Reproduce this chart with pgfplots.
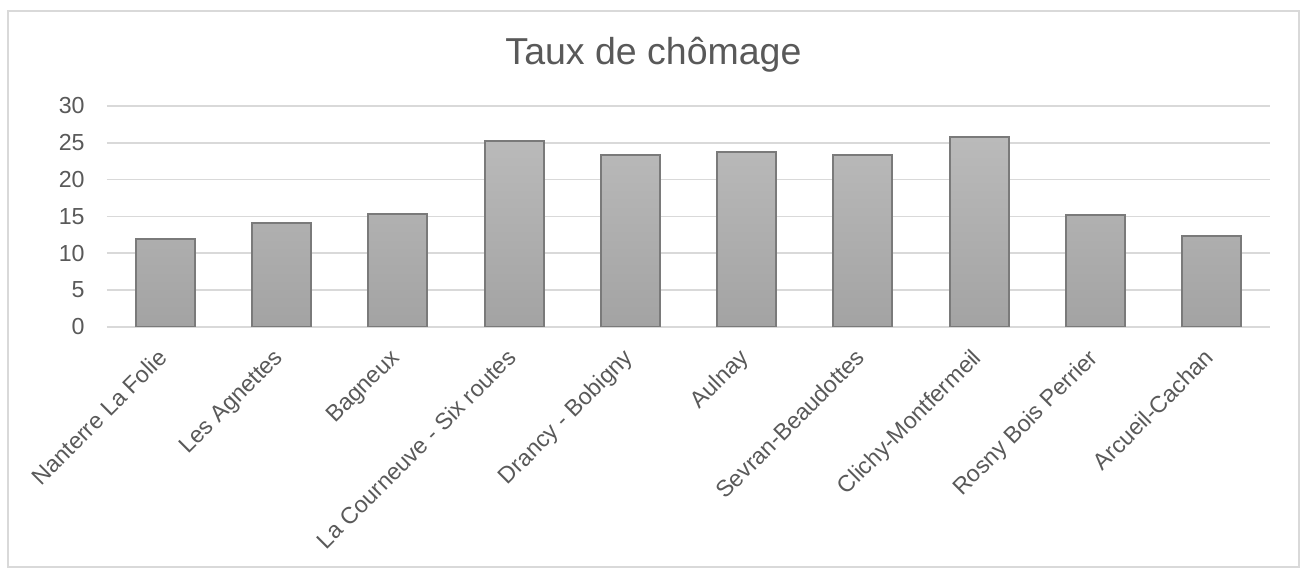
\documentclass[border=0pt]{standalone}
\usepackage{pgfplots}
\pgfplotsset{compat=1.18}
\usepackage{fontspec}
\setmainfont{Liberation Sans}
\definecolor{txt}{HTML}{595959}
\definecolor{gridc}{HTML}{D9D9D9}
\definecolor{bartop}{HTML}{BABABA}
\definecolor{barbot}{HTML}{A3A3A3}
\definecolor{barline}{HTML}{7A7A7A}
\begin{document}
\begin{tikzpicture}
\useasboundingbox (-53.5pt,-120.65pt) rectangle (598pt,163.35pt);
\draw[gridc, line width=0.8pt] (-49.5pt,-120.15pt) rectangle (596pt,157.85pt);
\begin{axis}[
  scale only axis,
  width=581.5pt, height=110.35pt,
  ymin=0, ymax=30, ytick={0,5,...,30},
  xmin=-0.5, xmax=9.5,
  xtick=data,
  xticklabels={Nanterre La Folie, Les Agnettes, Bagneux, La Courneuve - Six routes, Drancy - Bobigny, Aulnay, Sevran-Beaudottes, Clichy-Montfermeil, Rosny Bois Perrier, Arcueil-Cachan},
  axis line style={draw=none},
  major tick length=0pt,
  ymajorgrids, grid style={gridc, line width=0.8pt},
  tick label style={font=\fontsize{11.6}{14}\selectfont, text=txt},
  /pgf/number format/assume math mode=true,
  yticklabel style={anchor=east, inner sep=0pt, xshift=-11pt},
  xticklabel style={rotate=45, anchor=north east, inner sep=0pt, xshift=-10.25pt, yshift=-4.15pt},
  ybar, bar width=29.5pt,
]
\addplot[draw=barline, line width=1pt, top color=bartop, bottom color=barbot] coordinates {
(0,11.9) (1,14.1) (2,15.3) (3,25.3) (4,23.3) (5,23.7) (6,23.3) (7,25.8) (8,15.2) (9,12.3)};
\end{axis}
\node[anchor=base, font=\fontsize{18.75}{22}\selectfont, text=txt] at (273.25pt,130.85pt) {Taux de chômage};
\end{tikzpicture}
\end{document}
